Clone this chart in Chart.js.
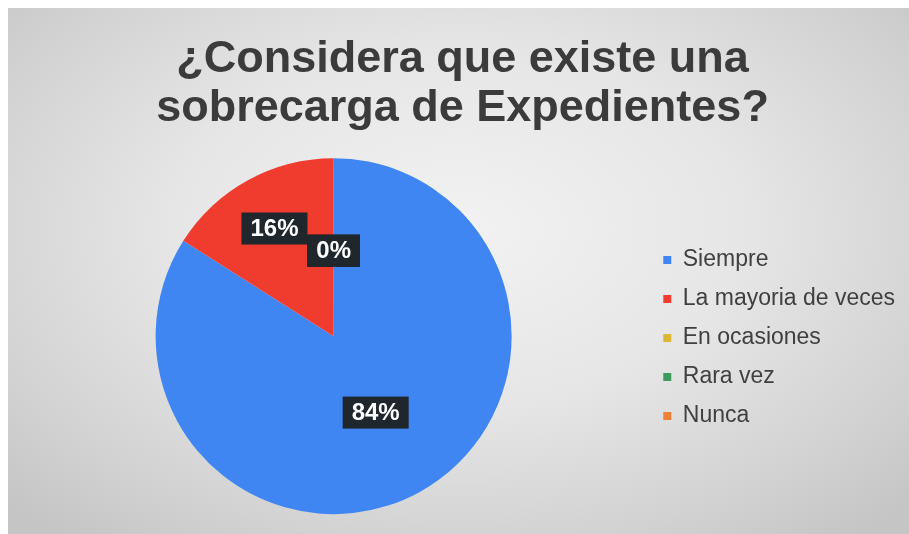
<!DOCTYPE html>
<html>
<head>
<meta charset="utf-8">
<script src="https://cdn.jsdelivr.net/npm/chart.js@4.4.1/dist/chart.umd.min.js"></script>
<style>
  html, body { margin: 0; padding: 0; background: #fff; }
  #panel {
    position: absolute; left: 8px; top: 8px; width: 901px; height: 526px;
    background: radial-gradient(ellipse 70% 75% at 50% 42%, #f2f2f2 0%, #e6e6e6 45%, #d2d2d2 80%, #c5c5c5 100%);
  }
  #chart { display: block; }
</style>
</head>
<body>
<div id="panel"><canvas id="chart" width="901" height="526"></canvas></div>
<script>
const titleLines = ['¿Considera que existe una', 'sobrecarga de Expedientes?'];
const categories = ['Siempre', 'La mayoria de veces', 'En ocasiones', 'Rara vez', 'Nunca'];
const values = [84, 16, 0, 0, 0];
const colors = ['#3f86f2', '#f03c2e', '#dcb832', '#3d9b5f', '#ec8036'];

// how far out from the centre each percentage box sits (fraction of radius)
const labelOffsets = [0.49, 0.69, 0.48, 0.48, 0.48];

const percentLabels = {
  id: 'percentLabels',
  afterDatasetsDraw(chart) {
    const ctx = chart.ctx;
    const meta = chart.getDatasetMeta(0);
    const data = chart.data.datasets[0].data;
    const total = data.reduce((a, b) => a + b, 0);
    ctx.save();
    ctx.font = 'bold 24px Arial, "Liberation Sans", sans-serif';
    ctx.textAlign = 'center';
    ctx.textBaseline = 'middle';
    // draw in reverse so the big slice label stays on top
    for (let i = meta.data.length - 1; i >= 0; i--) {
      const arc = meta.data[i];
      const mid = (arc.startAngle + arc.endAngle) / 2;
      const r = arc.outerRadius * labelOffsets[i];
      const x = arc.x + Math.cos(mid) * r;
      const y = arc.y + Math.sin(mid) * r;
      const text = Math.round(data[i] / total * 100) + '%';
      const w = ctx.measureText(text).width + 18;
      const h = 32;
      ctx.fillStyle = '#1f272c';
      ctx.fillRect(x - w / 2, y - h / 2, w, h);
      ctx.fillStyle = '#ffffff';
      ctx.fillText(text, x, y + 1);
    }
    ctx.restore();
  }
};

new Chart(document.getElementById('chart'), {
  type: 'pie',
  data: {
    labels: categories,
    datasets: [{
      data: values,
      backgroundColor: colors,
      borderWidth: 0,
      radius: 178
    }]
  },
  options: {
    responsive: false,
    animation: false,
    layout: { padding: { left: 12, right: 4, top: 0, bottom: 8 } },
    plugins: {
      title: {
        display: true,
        text: titleLines,
        color: '#3b3b3b',
        font: { family: 'Arial, "Liberation Sans", sans-serif', size: 45, weight: 'bold', lineHeight: 1.07 },
        padding: { top: 28, bottom: 14 }
      },
      legend: {
        position: 'right',
        title: {
          // blank title only used to push the entries down
          display: true,
          text: ' ',
          font: { size: 12, lineHeight: 1 },
          padding: { top: 130, bottom: 0 }
        },
        labels: {
          boxWidth: 8,
          boxHeight: 8,
          padding: 16,
          color: '#404040',
          font: { family: 'Arial, "Liberation Sans", sans-serif', size: 23 }
        }
      },
      tooltip: { enabled: false }
    }
  },
  plugins: [percentLabels]
});
</script>
</body>
</html>
